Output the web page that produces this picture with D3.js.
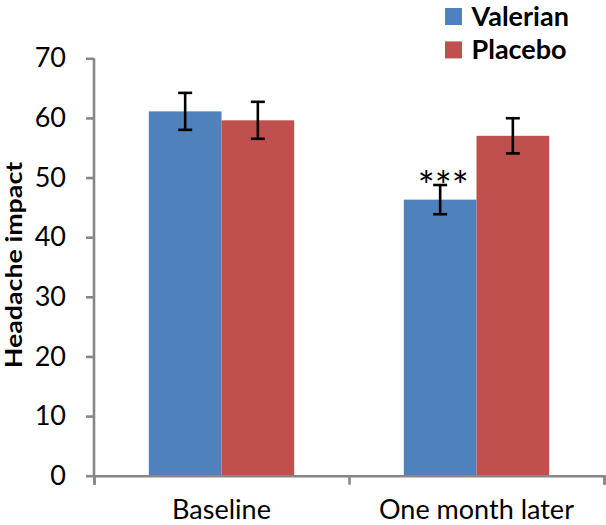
<!DOCTYPE html>
<html>
<head>
<meta charset="utf-8">
<script src="https://d3js.org/d3.v7.min.js"></script>
<style>
    body { margin: 0; background: #fff; }
    text { font-family: Lato, "Open Sans", sans-serif; fill: #000; }
</style>
</head>
<body>
<div id="chart"></div>
<script>
// -------------------- DATA -------------------- //
let categories = ["Baseline", "One month later"];
let seriesNames = ["Valerian", "Placebo"];
let valerian = [61.1, 46.3];
let valerianErr = [3.1, 2.45];
let placebo = [59.6, 57.0];
let placeboErr = [3.1, 2.95];
let yTicks = [0, 10, 20, 30, 40, 50, 60, 70];
let sigMarks = ["", "***"];

let colors = {"Valerian": "#4F81BD", "Placebo": "#C0504D"};

let rows = [];
categories.forEach((c, i) => {
    rows.push({cat: c, series: "Valerian", value: valerian[i], err: valerianErr[i], sig: sigMarks[i]});
    rows.push({cat: c, series: "Placebo", value: placebo[i], err: placeboErr[i], sig: ""});
});

let width = 606, height = 525;

let svg = d3.select("#chart").append("svg")
    .attr("width", width)
    .attr("height", height);

// -------------------- SCALES -------------------- //
let x0 = d3.scaleBand()
    .domain(categories)
    .range([94, 604])
    .paddingInner(0.43)
    .paddingOuter(0.215);

let x1 = d3.scaleBand()
    .domain(seriesNames)
    .range([0, x0.bandwidth()]);

let y = d3.scaleLinear()
    .domain([0, 70])
    .range([475.7, 58.3]);

// -------------------- BARS -------------------- //
let groups = svg.selectAll(".bar")
    .data(rows)
    .enter()
    .append("g")
    .attr("class", "bar")
    .attr("transform", d => `translate(${x0(d.cat) + x1(d.series)},0)`);

groups.append("rect")
    .attr("x", 0)
    .attr("y", d => y(d.value))
    .attr("width", x1.bandwidth())
    .attr("height", d => y(0) - y(d.value))
    .attr("fill", d => colors[d.series]);

// error bars
let cx = x1.bandwidth() / 2;
groups.append("line")
    .attr("x1", cx).attr("x2", cx)
    .attr("y1", d => y(d.value + d.err))
    .attr("y2", d => y(d.value - d.err))
    .attr("stroke", "#000").attr("stroke-width", 2.6);
groups.append("line")
    .attr("x1", cx - 7).attr("x2", cx + 7)
    .attr("y1", d => y(d.value + d.err))
    .attr("y2", d => y(d.value + d.err))
    .attr("stroke", "#000").attr("stroke-width", 2.6);
groups.append("line")
    .attr("x1", cx - 7).attr("x2", cx + 7)
    .attr("y1", d => y(d.value - d.err))
    .attr("y2", d => y(d.value - d.err))
    .attr("stroke", "#000").attr("stroke-width", 2.6);

// significance stars
groups.filter(d => d.sig !== "")
    .append("text")
    .attr("x", cx + 3)
    .attr("y", d => y(d.value + d.err) + 16)
    .attr("text-anchor", "middle")
    .style("font-size", "40px")
    .style("letter-spacing", "0px")
    .text(d => d.sig);

// -------------------- AXES -------------------- //
let yAxis = d3.axisLeft(y)
    .tickValues(yTicks)
    .tickSize(8)
    .tickPadding(20);

let yG = svg.append("g")
    .attr("transform", "translate(94,0)")
    .call(yAxis);
yG.select(".domain").attr("d", `M0,${y(70)}V${y(0)}`);

let xAxis = d3.axisBottom(d3.scaleLinear().domain([0, 2]).range([94, 604]))
    .tickValues([0, 1, 2])
    .tickSize(9)
    .tickFormat("");

let xG = svg.append("g")
    .attr("transform", `translate(0,${y(0)})`)
    .call(xAxis);

svg.selectAll(".domain, .tick line")
    .attr("stroke", "#878787")
    .attr("stroke-width", 2.6);

yG.selectAll(".tick text")
    .attr("dy", "0.32em")
    .style("font-size", "27px")
    .style("font-family", "Lato, sans-serif");

// category labels
svg.selectAll(".cat-label")
    .data(categories)
    .enter()
    .append("text")
    .attr("class", "cat-label")
    .attr("x", d => x0(d) + x0.bandwidth() / 2)
    .attr("y", 519)
    .attr("text-anchor", "middle")
    .style("font-size", "27px")
    .text(d => d);

// y axis title
svg.append("text")
    .attr("transform", "translate(22,265) rotate(-90) scale(1.03,0.85)")
    .attr("text-anchor", "middle")
    .style("font-size", "26px")
    .style("font-weight", "bold")
    .text("Headache impact");

// -------------------- LEGEND -------------------- //
let legend = svg.selectAll(".legend")
    .data(seriesNames)
    .enter()
    .append("g")
    .attr("class", "legend")
    .attr("transform", (d, i) => `translate(445,${8 + i * 33.4})`);

legend.append("rect")
    .attr("width", 17)
    .attr("height", 17)
    .attr("fill", d => colors[d]);

legend.append("text")
    .attr("x", 26.5)
    .attr("y", 18)
    .style("font-size", "27px")
    .style("font-weight", "bold")
    .text(d => d);
</script>
</body>
</html>
